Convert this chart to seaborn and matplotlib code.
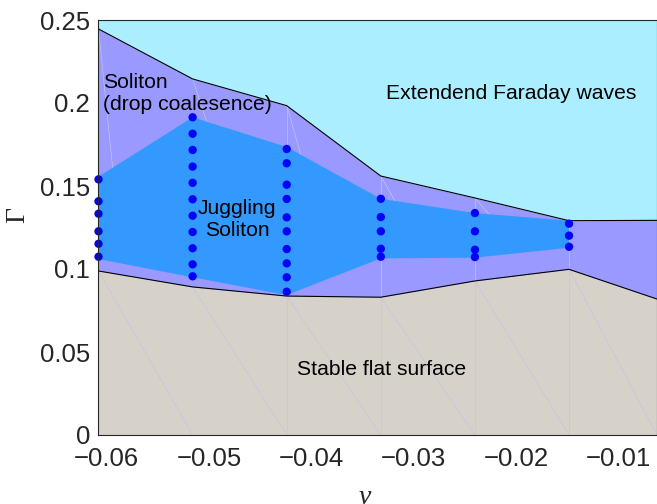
import numpy as np
import pandas as pd
import matplotlib
matplotlib.use("Agg")
import matplotlib.pyplot as plt
import seaborn as sns

# ---------------- data ----------------
nu_cols = [-0.0608, -0.0516, -0.0424, -0.0332, -0.0240, -0.0148]
nu_right = -0.0062
boundary_nu = nu_cols + [nu_right]
upper_bound = [0.2446, 0.2145, 0.1984, 0.1560, 0.1428, 0.1291, 0.1293]
lower_bound = [0.0988, 0.0892, 0.0837, 0.0830, 0.0928, 0.0998, 0.0819]
juggling_top = [0.1556, 0.1914, 0.1735, 0.1423, 0.1337, 0.1291]
juggling_bottom = [0.1060, 0.0950, 0.0843, 0.1064, 0.1068, 0.1128]

gamma_col1 = [0.1540, 0.1408, 0.1333, 0.1227, 0.1152, 0.1074]
gamma_col2 = [0.1914, 0.1815, 0.1717, 0.1617, 0.1519, 0.1420, 0.1321, 0.1223, 0.1125, 0.1028, 0.0956]
gamma_col3 = [0.1723, 0.1637, 0.1508, 0.1422, 0.1311, 0.1227, 0.1120, 0.1034, 0.0950, 0.0863]
gamma_col4 = [0.1423, 0.1313, 0.1227, 0.1122, 0.1074]
gamma_col5 = [0.1337, 0.1227, 0.1116, 0.1072]
gamma_col6 = [0.1273, 0.1201, 0.1134]
gamma_cols = [gamma_col1, gamma_col2, gamma_col3, gamma_col4, gamma_col5, gamma_col6]

x_ticks = [-0.06, -0.05, -0.04, -0.03, -0.02, -0.01]
x_ticklabels = ["\u22120.06", "\u22120.05", "\u22120.04", "\u22120.03", "\u22120.02", "\u22120.01"]
y_ticks = [0, 0.05, 0.1, 0.15, 0.2, 0.25]
y_ticklabels = ["0", "0.05", "0.1", "0.15", "0.2", "0.25"]

dots = pd.DataFrame({
    "nu": np.concatenate([[n] * len(g) for n, g in zip(nu_cols, gamma_cols)]),
    "Gamma": np.concatenate(gamma_cols),
})

# ---------------- style ----------------
sns.set_theme(style="ticks")
plt.rcParams["font.family"] = ["Liberation Sans", "DejaVu Sans"]

C_FARADAY = "#aaeeff"
C_SOLITON = "#9999ff"
C_JUGGLE = "#3399ff"
C_STABLE = "#d6d2ca"
C_FAINT = "#c4c4e4"

fig = plt.figure(figsize=(6.57, 5.04), dpi=100)
ax = fig.add_axes([98.3 / 657, 69 / 504, 1 - 98.3 / 657, 415 / 504])

ymax = 0.25
ax.fill_between(boundary_nu, 0, lower_bound, color=C_STABLE, lw=0, zorder=1)
ax.fill_between(boundary_nu, lower_bound, upper_bound, color=C_SOLITON, lw=0, zorder=1)
ax.fill_between(boundary_nu, upper_bound, ymax, color=C_FARADAY, lw=0, zorder=1)

# faint triangulation edges (patch mesh)
for i in range(len(boundary_nu) - 1):
    ax.plot([boundary_nu[i], boundary_nu[i + 1]], [lower_bound[i], 0],
            color=C_FAINT, lw=0.5, zorder=2)
for i in range(2, len(nu_cols)):
    ax.plot([nu_cols[i], nu_cols[i]], [0, upper_bound[i]], color=C_FAINT, lw=0.5, zorder=2)
for i in range(len(nu_cols) - 1):
    ax.plot([nu_cols[i], nu_cols[i] + 0.15 * (nu_cols[i + 1] - nu_cols[i])],
            [upper_bound[i], juggling_top[i] + 0.15 * (juggling_top[i + 1] - juggling_top[i])],
            color=C_FAINT, lw=0.5, zorder=2)

poly_x = nu_cols + nu_cols[::-1]
poly_y = juggling_top + juggling_bottom[::-1]
ax.fill(poly_x, poly_y, color=C_JUGGLE, lw=0, zorder=3)

ax.plot(boundary_nu, upper_bound, color="black", lw=0.8, zorder=4)
ax.plot(boundary_nu, lower_bound, color="black", lw=0.8, zorder=4)

sns.scatterplot(data=dots, x="nu", y="Gamma", ax=ax, color="#0000ff", s=36,
                edgecolor="none", zorder=5, clip_on=False, legend=False)

ax.set_xlim(-0.06082, nu_right)
ax.set_ylim(0, ymax)
ax.set_xticks(x_ticks)
ax.set_xticklabels(x_ticklabels)
ax.set_yticks(y_ticks)
ax.set_yticklabels(y_ticklabels)
ax.tick_params(axis="both", direction="in", length=4, width=0.6, labelsize=18.5,
               colors="#262626", top=True, right=True)
ax.tick_params(axis="x", pad=9)
ax.tick_params(axis="y", pad=6)
for sp in ax.spines.values():
    sp.set_color("#262626")
    sp.set_linewidth(0.8)
    sp.set_zorder(6)

ax.set_xlabel("\u03bd", family=["Liberation Serif", "DejaVu Serif"], style="italic",
              fontsize=20, color="#262626")
ax.set_ylabel("\u0393", family=["Liberation Serif", "DejaVu Serif"],
              fontsize=20, color="#262626")
ax.xaxis.set_label_coords((365 - 98.3) / 558.7, (435 - 485) / 415)
ax.yaxis.set_label_coords((30 - 98.3) / 558.7, (435 - 215) / 415)

fs = 15.2
ax.text(-0.06082 + 4.4 / 10230, (435 - 93) / 1660, "Soliton\n(drop coalesence)", fontsize=fs,
        ha="left", va="center", linespacing=1.2, color="black", zorder=7)
ax.text(-0.06 + (237 - 106.7) / 10230, (435 - 220) / 1660, "Juggling\nSoliton", fontsize=fs,
        ha="center", va="center", linespacing=1.2, color="black", zorder=7)
ax.text(-0.06 + (511.5 - 106.7) / 10230, (435 - 93.3) / 1660, "Extendend Faraday waves",
        fontsize=fs, ha="center", va="center", color="black", zorder=7)
ax.text(-0.06 + (381.7 - 106.7) / 10230, (435 - 369.3) / 1660, "Stable flat surface",
        fontsize=fs, ha="center", va="center", color="black", zorder=7)

fig.savefig("out.png", dpi=100)
